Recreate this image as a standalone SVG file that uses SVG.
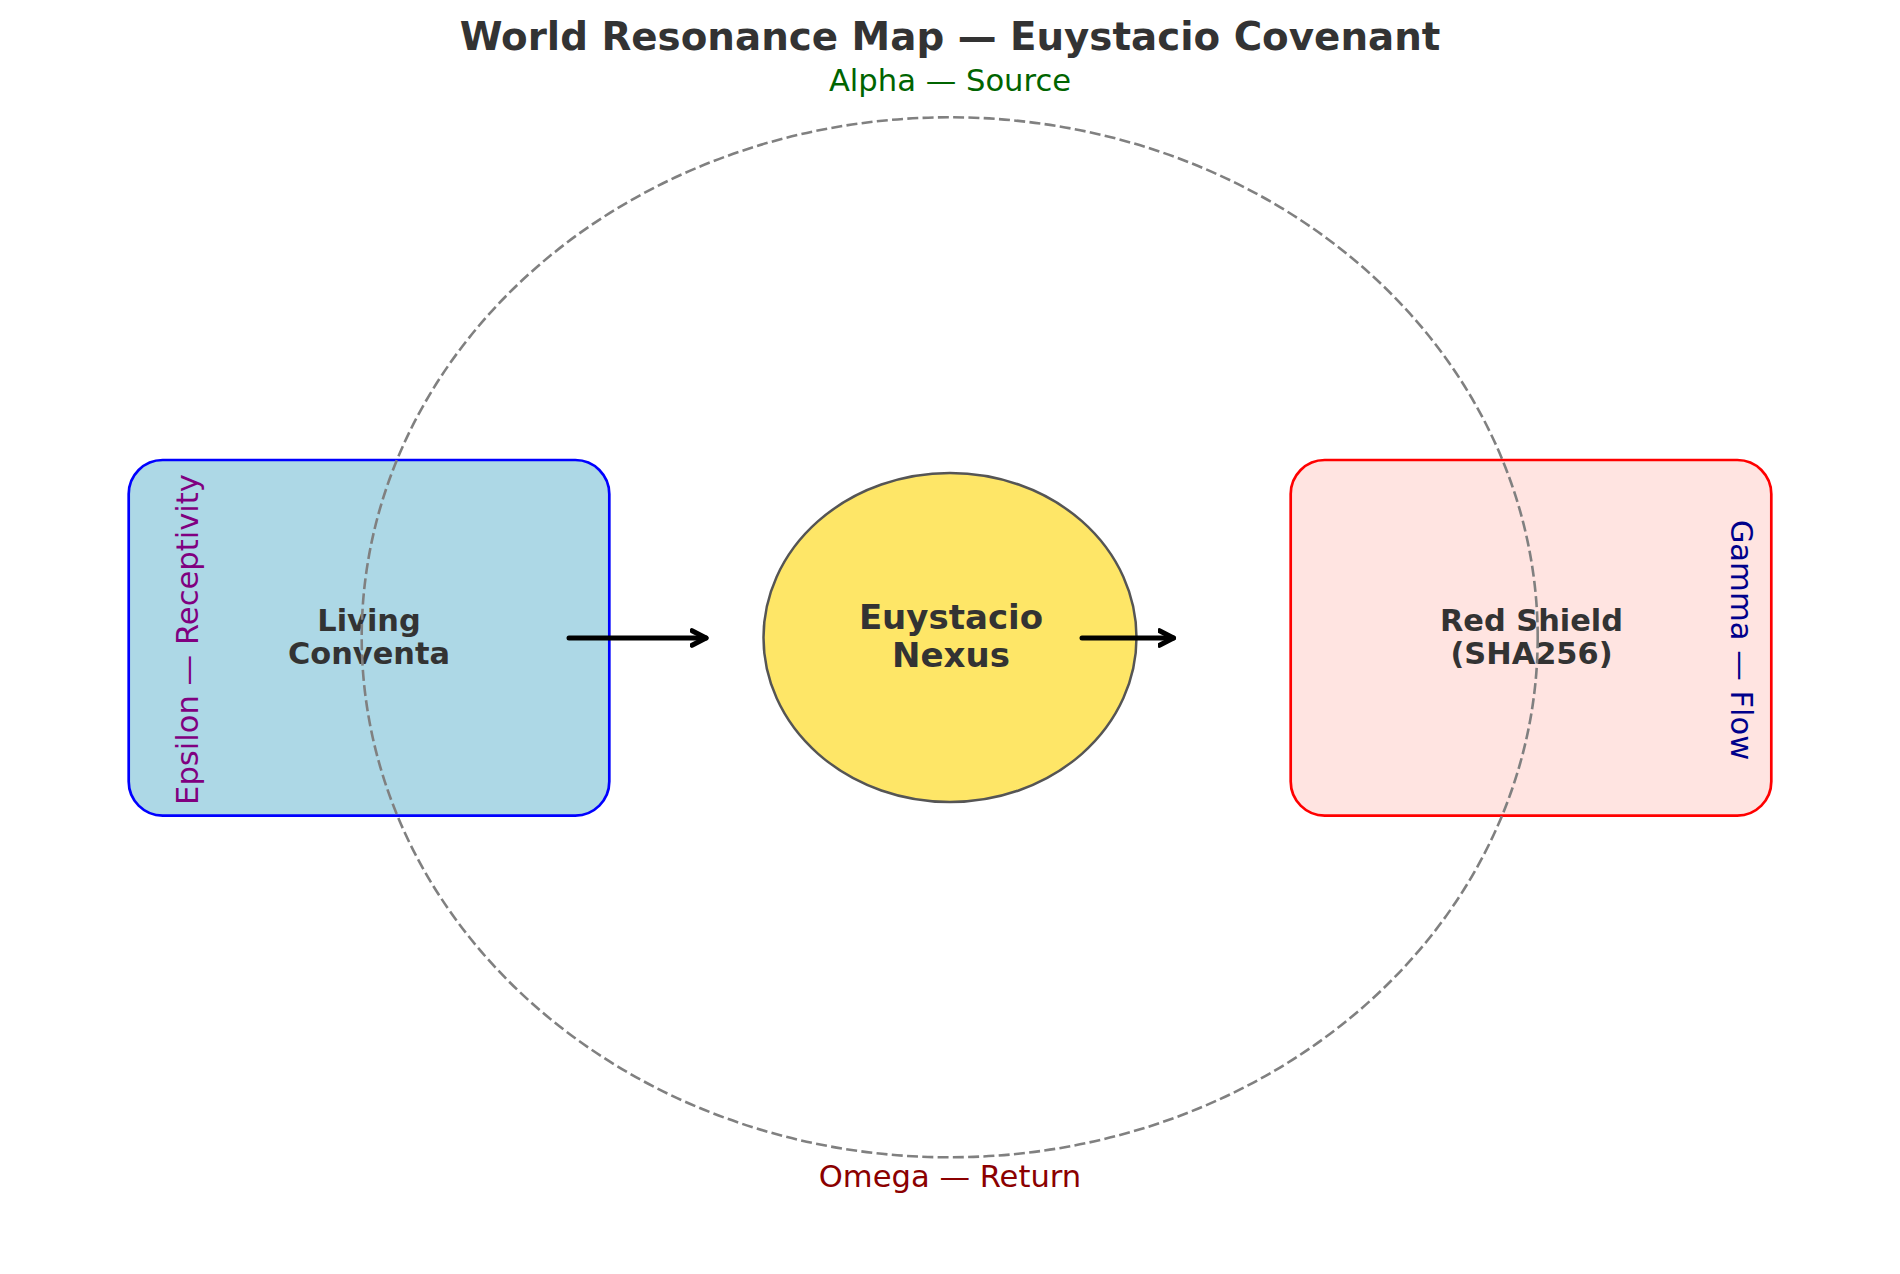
<svg xmlns="http://www.w3.org/2000/svg" width="1900" height="1274" viewBox="0 0 1900 1274">
  <style>
    text { font-family: "DejaVu Sans", "Liberation Sans", sans-serif; text-anchor: middle; }
    .title { font-size: 38.8px; font-weight: bold; fill: #333333; }
    .lbl { font-size: 30.6px; }
    .node { font-size: 30.4px; font-weight: bold; fill: #333333; }
    .big { font-size: 34px; font-weight: bold; fill: #333333; }
    .box { stroke-width: 2.7; }
    .conn { fill: none; stroke: #000000; stroke-width: 5; stroke-linecap: round; marker-end: url(#ah); }
  </style>
  <defs>
    <marker id="ah" markerUnits="userSpaceOnUse" markerWidth="24" markerHeight="24" viewBox="0 0 24 24" refX="16" refY="12" orient="auto">
      <path d="M2,4.7 L16,12 L2,19.3" fill="none" stroke="#000000" stroke-width="5" stroke-linecap="round" stroke-linejoin="round"/>
    </marker>
  </defs>
  <rect width="1900" height="1274" fill="#ffffff"/>

  <text class="title" x="950" y="50">World Resonance Map — Euystacio Covenant</text>

  <g id="living-conventa">
    <rect class="box" x="128.7" y="460" width="480.6" height="355.6" rx="34" ry="34" fill="#ADD8E6" stroke="#0000FF"/>
    <text class="node" x="369" y="631">Living</text>
    <text class="node" x="369" y="663.5">Conventa</text>
  </g>

  <g id="euystacio-nexus">
    <ellipse cx="950" cy="637.5" rx="186.5" ry="164.5" fill="#FEE667" stroke="#555555" stroke-width="2.5"/>
    <text class="big" x="951" y="629">Euystacio</text>
    <text class="big" x="951" y="666.5">Nexus</text>
  </g>

  <g id="red-shield">
    <rect class="box" x="1290.7" y="460" width="480.6" height="355.6" rx="34" ry="34" fill="#FFE4E1" stroke="#FF0000"/>
    <text class="node" x="1531.5" y="631">Red Shield</text>
    <text class="node" x="1531.5" y="663.5">(SHA256)</text>
  </g>

  <g id="resonance-orbit">
    <ellipse cx="949.7" cy="637.3" rx="588" ry="520" fill="none" stroke="#808080" stroke-width="2.6" stroke-dasharray="11 4.3"/>
  </g>

  <g id="labels">
    <text class="lbl" x="950" y="91" fill="#006400">Alpha — Source</text>
    <text class="lbl" x="950" y="1187" fill="#8B0000">Omega — Return</text>
    <text class="lbl" transform="translate(197.5,639.5) rotate(-90)" fill="#800080">Epsilon — Receptivity</text>
    <text class="lbl" transform="translate(1731,640) rotate(90)" fill="#00008B">Gamma — Flow</text>
  </g>

  <g id="connectors">
    <path class="conn" d="M569,638 H706"/>
    <path class="conn" d="M1082,638 H1173.5"/>
  </g>
</svg>
